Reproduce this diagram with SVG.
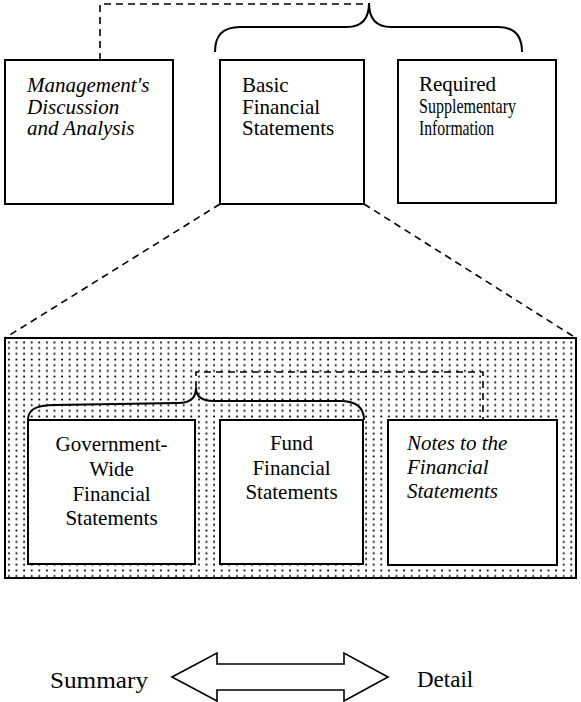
<svg xmlns="http://www.w3.org/2000/svg" width="581" height="702" viewBox="0 0 581 702">
<defs>
<pattern id="dots" patternUnits="userSpaceOnUse" x="6" y="340" width="7.6" height="5.7">
<rect x="2" y="1.5" width="1.8" height="1.8" fill="#000"/>
</pattern>
<style>
.box{fill:#fff;stroke:#000;stroke-width:2}
.frame{fill:url(#dots);stroke:#000;stroke-width:2}
.t{font-family:'Liberation Serif','Times New Roman',serif;font-size:21px;fill:#000}
.i{font-style:italic}
.c{text-anchor:middle}
.big{font-size:23px}
.dash{fill:none;stroke:#000;stroke-width:1.6;stroke-dasharray:7 5}
.brace{fill:none;stroke:#000;stroke-width:2}
.arrow{fill:#fff;stroke:#000;stroke-width:1.6}
</style>
</defs>
<rect width="581" height="702" fill="#fff"/>

<g id="gov-financial-frame">
<rect class="frame" x="5" y="338" width="571" height="240"/>
</g>

<g id="connectors">
<path class="dash" d="M100,60 V4 H369"/>
<path class="brace" d="M215,52 C215,36 222,27 240,27 L347,27 Q369,27 369,3 Q369,27 391,27 L498,27 C515,27 522,36 522,52"/>
<path class="dash" d="M220,204 L5,338"/>
<path class="dash" d="M364,204 L576,338"/>
<path class="dash" d="M196,388 V372 H483 V420"/>
<path class="brace" d="M28,420 C28,410 35,405 55,405 L178,403 Q196,403 196,388 Q196,401 214,401 L340,401 C357,401 364,408 364,420"/>
</g>

<g id="mdna">
<rect class="box" x="5" y="60" width="168" height="144"/>
<text class="t i" x="27" y="92">Management's</text>
<text class="t i" x="27" y="113.5">Discussion</text>
<text class="t i" x="27" y="135">and Analysis</text>
</g>

<g id="basic">
<rect class="box" x="220" y="60" width="144" height="144"/>
<text class="t" x="242" y="92">Basic</text>
<text class="t" x="242" y="113.5">Financial</text>
<text class="t" x="242" y="135">Statements</text>
</g>

<g id="rsi">
<rect class="box" x="398" y="60" width="158" height="143"/>
<text class="t" x="419" y="91">Required</text>
<text class="t" x="419" y="113" textLength="97" lengthAdjust="spacingAndGlyphs">Supplementary</text>
<text class="t" x="419" y="135" textLength="75" lengthAdjust="spacingAndGlyphs">Information</text>
</g>

<g id="gov-wide">
<rect class="box" x="28" y="420" width="167" height="144"/>
<text class="t c" x="111.5" y="451">Government-</text>
<text class="t c" x="111.5" y="476">Wide</text>
<text class="t c" x="111.5" y="501">Financial</text>
<text class="t c" x="111.5" y="525">Statements</text>
</g>

<g id="fund">
<rect class="box" x="220" y="420" width="143" height="144"/>
<text class="t c" x="291.5" y="450">Fund</text>
<text class="t c" x="291.5" y="475">Financial</text>
<text class="t c" x="291.5" y="499">Statements</text>
</g>

<g id="notes">
<rect class="box" x="388" y="420" width="169" height="145"/>
<text class="t i" x="407" y="450">Notes to the</text>
<text class="t i" x="407" y="474">Financial</text>
<text class="t i" x="407" y="498">Statements</text>
</g>

<g id="summary-detail">
<polygon class="arrow" points="172,677 217,653 217,664 344,664 344,653 388,677 344,701 344,690 217,690 217,701"/>
<text class="t big" x="50" y="688" textLength="98" lengthAdjust="spacingAndGlyphs">Summary</text>
<text class="t big" x="417" y="687">Detail</text>
</g>
</svg>
